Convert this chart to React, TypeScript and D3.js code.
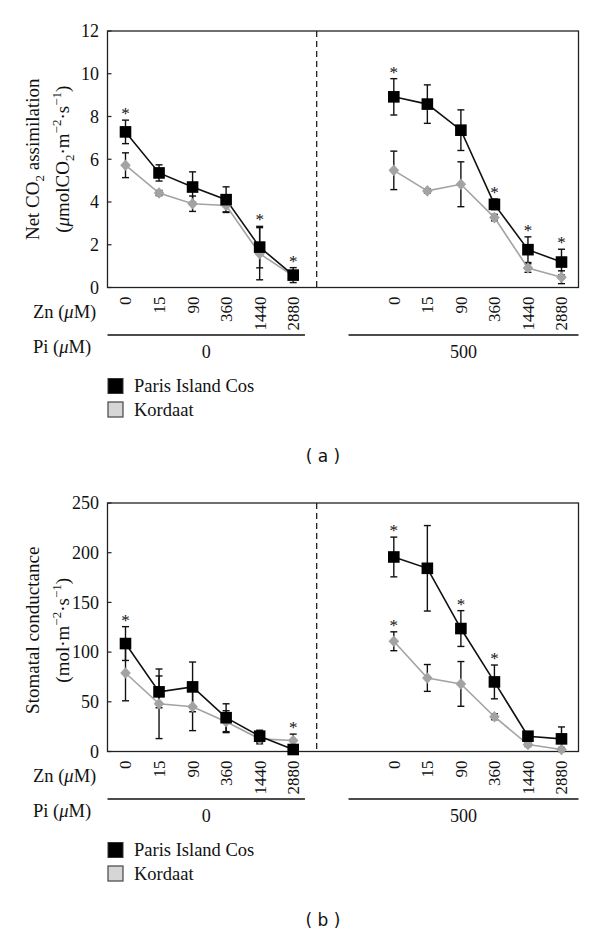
import React from "react";
import * as d3 from "d3";

// ---------- data ----------
const zincLevels = ["0", "15", "90", "360", "1440", "2880"];
const piLevels = ["0", "500"];
const seriesNames = ["Paris Island Cos", "Kordaat"];
// x slots: 6 Zn levels for Pi=0, then 6 Zn levels for Pi=500
const slotIndex = [0, 1, 2, 3, 4, 5, 8, 9, 10, 11, 12, 13];

// (a) Net CO2 assimilation
const netPIC = [7.28, 5.36, 4.7, 4.11, 1.89, 0.58, 8.92, 8.58, 7.36, 3.89, 1.77, 1.19];
const netPICErr = [0.55, 0.38, 0.71, 0.6, 0.97, 0.35, 0.85, 0.9, 0.95, 0.25, 0.6, 0.6];
const netKor = [5.72, 4.42, 3.92, 3.84, 1.58, 0.55, 5.48, 4.52, 4.83, 3.27, 0.91, 0.48];
const netKorErr = [0.58, 0.12, 0.36, 0.3, 1.22, 0.1, 0.9, 0.1, 1.05, 0.15, 0.2, 0.3];
const netPICStar = [1, 0, 0, 0, 1, 1, 1, 0, 0, 1, 1, 1];
const netKorStar = [0, 0, 0, 0, 0, 0, 0, 0, 0, 0, 0, 0];
const netTicks = [0, 2, 4, 6, 8, 10, 12];

// (b) Stomatal conductance
const condPIC = [108.6, 60, 65, 34, 15.4, 2, 195.7, 184.3, 123.7, 70, 15.4, 12.7];
const condPICErr = [17, 16, 25, 14, 6, 2, 20, 43, 18, 17, 3, 12];
const condKor = [79, 48, 45, 30, 12.7, 11, 110.9, 74, 68, 35, 7, 2];
const condKorErr = [28, 35, 24, 11, 5, 6.5, 9.5, 13.5, 22.5, 3, 2, 2];
const condPICStar = [1, 0, 0, 0, 0, 0, 1, 0, 1, 1, 0, 0];
const condKorStar = [0, 0, 0, 0, 0, 1, 1, 0, 0, 0, 0, 0];
const condTicks = [0, 50, 100, 150, 200, 250];

// ---------- layout ----------
const FRAME_L = 107.5;
const FRAME_R = 578.5;
const SERIF = "Liberation Serif";
const GRAY = "#a3a3a3";

const xScale = d3.scaleLinear().domain([0, 13]).range([125.5, 561.5]);

type PanelProps = {
  top: number;
  bottom: number;
  yMax: number;
  ticks: number[];
  pic: number[];
  picErr: number[];
  kor: number[];
  korErr: number[];
  picStar: number[];
  korStar: number[];
  title: React.ReactNode;
  caption: string;
};

function Panel(p: PanelProps) {
  const y = d3.scaleLinear().domain([0, p.yMax]).range([p.bottom, p.top]);
  const ptsPIC = p.pic.map((v, i) => [xScale(slotIndex[i]), y(v)] as [number, number]);
  const ptsKor = p.kor.map((v, i) => [xScale(slotIndex[i]), y(v)] as [number, number]);
  const line = d3.line();
  const g1 = [ptsPIC.slice(0, 6), ptsPIC.slice(6)];
  const g2 = [ptsKor.slice(0, 6), ptsKor.slice(6)];
  const dashX = xScale(5.7);
  const midY = (p.top + p.bottom) / 2;
  const errBar = (v: number, e: number, i: number, key: string) => {
    const x = xScale(slotIndex[i]);
    const y1 = y(v + e);
    const y0 = y(Math.max(0, v - e));
    return (
      <g key={key} stroke="#111" strokeWidth={1.4}>
        <line x1={x} x2={x} y1={y0} y2={y1} />
        <line x1={x - 3.5} x2={x + 3.5} y1={y1} y2={y1} />
        <line x1={x - 3.5} x2={x + 3.5} y1={y0} y2={y0} />
      </g>
    );
  };
  const groupLines = [
    [FRAME_L, xScale(5.35)],
    [xScale(6.65), FRAME_R],
  ];
  return (
    <g>
      {/* frame */}
      <rect x={FRAME_L} y={p.top} width={FRAME_R - FRAME_L} height={p.bottom - p.top} fill="none" stroke="#222" strokeWidth={1.3} />
      <line x1={dashX} x2={dashX} y1={p.top} y2={p.bottom} stroke="#222" strokeWidth={1.3} strokeDasharray="6,4" />
      {/* y ticks */}
      {p.ticks.map((t) => (
        <g key={t}>
          <line x1={FRAME_L} x2={FRAME_L + 4} y1={y(t)} y2={y(t)} stroke="#222" strokeWidth={1.2} />
          <text x={99} y={y(t)} dy="0.35em" textAnchor="end" fontFamily={SERIF} fontSize={18} fill="#111">
            {t}
          </text>
        </g>
      ))}
      {/* y title */}
      <g transform={`translate(0,${midY})`}>{p.title}</g>
      {/* error bars */}
      {p.kor.map((v, i) => errBar(v, p.korErr[i], i, "ek" + i))}
      {p.pic.map((v, i) => errBar(v, p.picErr[i], i, "ep" + i))}
      {/* lines */}
      {g2.map((pts, k) => (
        <path key={"lk" + k} d={line(pts) || ""} fill="none" stroke={GRAY} strokeWidth={1.6} />
      ))}
      {g1.map((pts, k) => (
        <path key={"lp" + k} d={line(pts) || ""} fill="none" stroke="#111" strokeWidth={1.6} />
      ))}
      {/* markers */}
      {ptsKor.map(([cx, cy], i) => (
        <path key={"mk" + i} d={`M${cx},${cy - 5.8}L${cx + 5.3},${cy}L${cx},${cy + 5.8}L${cx - 5.3},${cy}Z`} fill={GRAY} />
      ))}
      {ptsPIC.map(([cx, cy], i) => (
        <rect key={"mp" + i} x={cx - 5.8} y={cy - 5.8} width={11.6} height={11.6} fill="#000" />
      ))}
      {/* stars */}
      {p.pic.map((_, i) => {
        const out: React.ReactNode[] = [];
        if (p.picStar[i]) {
          out.push(
            <text key={"sp" + i} x={xScale(slotIndex[i])} y={y(p.pic[i] + p.picErr[i]) - 1} textAnchor="middle" fontFamily={SERIF} fontSize={17} fill="#111">
              *
            </text>
          );
        }
        if (p.korStar[i]) {
          out.push(
            <text key={"sk" + i} x={xScale(slotIndex[i])} y={y(p.kor[i] + p.korErr[i]) - 1} textAnchor="middle" fontFamily={SERIF} fontSize={17} fill="#111">
              *
            </text>
          );
        }
        return out;
      })}
      {/* x tick labels */}
      {slotIndex.map((s, i) => (
        <text
          key={"xt" + i}
          transform={`translate(${xScale(s)},${p.bottom + 9}) rotate(-90)`}
          dy="0.35em"
          textAnchor="end"
          fontFamily={SERIF}
          fontSize={17}
          fill="#111"
        >
          {zincLevels[i % 6]}
        </text>
      ))}
      <text x={33} y={p.bottom + 24.5} dy="0.35em" fontFamily={SERIF} fontSize={18.5} fill="#111">
        Zn (<tspan fontStyle="italic">μ</tspan>M)
      </text>
      {groupLines.map(([a, b], k) => (
        <line key={"gl" + k} x1={a} x2={b} y1={p.bottom + 47.5} y2={p.bottom + 47.5} stroke="#111" strokeWidth={1.4} />
      ))}
      <text x={33} y={p.bottom + 59.5} dy="0.35em" fontFamily={SERIF} fontSize={18.5} fill="#111">
        Pi (<tspan fontStyle="italic">μ</tspan>M)
      </text>
      {groupLines.map(([a, b], k) => (
        <text key={"gv" + k} x={(a + b) / 2} y={p.bottom + 64} dy="0.35em" textAnchor="middle" fontFamily={SERIF} fontSize={18} fill="#111">
          {piLevels[k]}
        </text>
      ))}
      {/* legend */}
      <rect x={108} y={p.bottom + 91} width={15} height={15} fill="#000" stroke="#333" strokeWidth={1} />
      <text x={134} y={p.bottom + 98.5} dy="0.35em" fontFamily={SERIF} fontSize={18.5} fill="#111">
        {seriesNames[0]}
      </text>
      <rect x={108} y={p.bottom + 114.5} width={15} height={15} fill="#d6d6d6" stroke="#444" strokeWidth={1.2} />
      <text x={134} y={p.bottom + 122} dy="0.35em" fontFamily={SERIF} fontSize={18.5} fill="#111">
        {seriesNames[1]}
      </text>
      {/* caption */}
      <text x={323} y={p.bottom + 169} dy="0.35em" textAnchor="middle" fontFamily="DejaVu Sans" fontSize={17} fill="#111">
        {p.caption}
      </text>
    </g>
  );
}

const titleA = (
  <g>
    <text transform="translate(32,0) rotate(-90)" dy="0.35em" textAnchor="middle" fontFamily={SERIF} fontSize={19} fill="#111">
      Net CO<tspan fontSize={13} dy="5">2</tspan>
      <tspan dy="-5"> assimilation</tspan>
    </text>
    <text transform="translate(62,0) rotate(-90)" dy="0.35em" textAnchor="middle" fontFamily={SERIF} fontSize={19} fill="#111">
      (<tspan fontStyle="italic">μ</tspan>molCO<tspan fontSize={13} dy="5">2</tspan>
      <tspan dy="-5">·m</tspan>
      <tspan fontSize={13} dy="-8">−2</tspan>
      <tspan dy="8">·s</tspan>
      <tspan fontSize={13} dy="-8">−1</tspan>
      <tspan dy="8">)</tspan>
    </text>
  </g>
);

const titleB = (
  <g transform="translate(0,3)">
    <text transform="translate(32,0) rotate(-90)" dy="0.35em" textAnchor="middle" fontFamily={SERIF} fontSize={19} fill="#111">
      Stomatal conductance
    </text>
    <text transform="translate(62,0) rotate(-90)" dy="0.35em" textAnchor="middle" fontFamily={SERIF} fontSize={19} fill="#111">
      (mol·m<tspan fontSize={13} dy="-8">−2</tspan>
      <tspan dy="8">·s</tspan>
      <tspan fontSize={13} dy="-8">−1</tspan>
      <tspan dy="8">)</tspan>
    </text>
  </g>
);

export default function App() {
  return (
    <div style={{ position: "absolute", left: 0, top: 0, width: 600, height: 936, background: "#fff" }}>
      <svg width={600} height={936} style={{ display: "block" }}>
        <rect width={600} height={936} fill="#fff" />
        <Panel
          top={31}
          bottom={287.5}
          yMax={12}
          ticks={netTicks}
          pic={netPIC}
          picErr={netPICErr}
          kor={netKor}
          korErr={netKorErr}
          picStar={netPICStar}
          korStar={netKorStar}
          title={titleA}
          caption="( a )"
        />
        <Panel
          top={503}
          bottom={751.5}
          yMax={250}
          ticks={condTicks}
          pic={condPIC}
          picErr={condPICErr}
          kor={condKor}
          korErr={condKorErr}
          picStar={condPICStar}
          korStar={condKorStar}
          title={titleB}
          caption="( b )"
        />
      </svg>
    </div>
  );
}
